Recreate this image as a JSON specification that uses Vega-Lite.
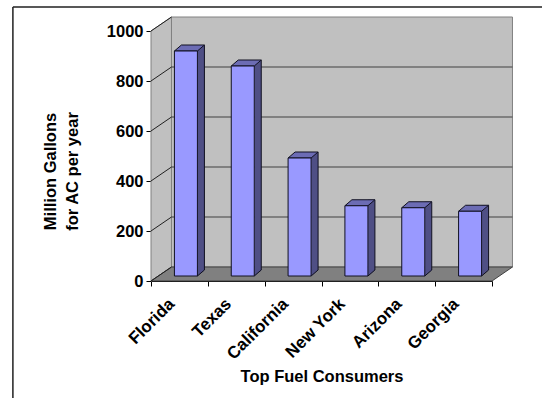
{
  "$schema": "https://vega.github.io/schema/vega-lite/v6.json",
  "width": 341,
  "height": 250,
  "autosize": {"type": "none"},
  "padding": {"left": 151, "top": 31, "right": 50, "bottom": 117},
  "background": "white",
  "config": {"view": {"stroke": null}, "font": "Liberation Sans"},
  "datasets": {
    "consumers": [
      {"state": "Florida", "gallons": 900},
      {"state": "Texas", "gallons": 840},
      {"state": "California", "gallons": 472},
      {"state": "New York", "gallons": 281},
      {"state": "Arizona", "gallons": 273},
      {"state": "Georgia", "gallons": 259}
    ],
    "levels": [
      {"level": 0}, {"level": 200}, {"level": 400}, {"level": 600}, {"level": 800}, {"level": 1000}
    ]
  },
  "resolve": {"scale": {"x": "independent"}, "axis": {"x": "independent"}},
  "layer": [
    {
      "layer": [
        {
          "data": {"values": [{"x0": 0.36, "x1": 6.36, "low": 56, "high": 1056}]},
          "mark": {"type": "rect", "fill": "#c0c0c0", "stroke": "#808080", "strokeWidth": 1},
          "encoding": {
            "x": {"field": "x0", "type": "quantitative", "scale": {"domain": [0, 6], "nice": false, "zero": false}, "axis": null},
            "x2": {"field": "x1"},
            "y": {"field": "low", "type": "quantitative", "scale": {"domain": [0, 1000], "nice": false},
              "axis": {
                "orient": "left",
                "values": [0, 200, 400, 600, 800, 1000],
                "format": "d",
                "grid": false,
                "title": ["Million Gallons", "for AC per year"],
                "titleFont": "Liberation Sans",
                "titleFontSize": 16.5,
                "titleFontWeight": "bold",
                "titleColor": "black",
                "titleLineHeight": 22,
                "titlePadding": 26,
                "titleY": 140,
                "labelFont": "Liberation Sans",
                "labelFontSize": 16.5,
                "labelFontWeight": "bold",
                "labelColor": "black",
                "labelPadding": 3,
                "tickSize": 5,
                "tickColor": "black",
                "domainColor": "#808080"
              }},
            "y2": {"field": "high"}
          }
        },
        {
          "data": {"values": [{"x": 0, "low": 0, "high": 1000}, {"x": 0.36, "low": 56, "high": 1056}]},
          "mark": {"type": "area", "fill": "#c0c0c0", "stroke": "#808080", "strokeWidth": 1},
          "encoding": {
            "x": {"field": "x", "type": "quantitative", "axis": null},
            "y": {"field": "low", "type": "quantitative"},
            "y2": {"field": "high"}
          }
        },
        {
          "data": {"values": [
            {"x": 0, "low": 0, "high": 0},
            {"x": 0.36, "low": 0, "high": 56},
            {"x": 6, "low": 0, "high": 56},
            {"x": 6.36, "low": 56, "high": 56}
          ]},
          "mark": {"type": "area", "fill": "#808080", "stroke": "#404040", "strokeWidth": 1},
          "encoding": {
            "x": {"field": "x", "type": "quantitative", "axis": null},
            "y": {"field": "low", "type": "quantitative"},
            "y2": {"field": "high"}
          }
        },
        {
          "data": {"name": "levels"},
          "transform": [{"filter": "datum.level > 0 && datum.level < 1000"}],
          "mark": {"type": "rule", "color": "#404040", "strokeWidth": 1, "yOffset": -14},
          "encoding": {
            "x": {"datum": 0.36, "type": "quantitative", "axis": null},
            "x2": {"datum": 6.36},
            "y": {"field": "level", "type": "quantitative"}
          }
        },
        {
          "data": {"name": "levels"},
          "mark": {"type": "point", "shape": "M0,0L20.5,-14", "size": 4, "filled": false, "stroke": "#202020", "strokeWidth": 1, "opacity": 1},
          "encoding": {
            "x": {"datum": 0, "type": "quantitative", "axis": null},
            "y": {"field": "level", "type": "quantitative"}
          }
        },
        {
          "data": {"values": [{"edge": "left"}]},
          "mark": {"type": "rule", "color": "#202020", "strokeWidth": 1.5},
          "encoding": {
            "x": {"datum": -2.43, "type": "quantitative", "axis": null},
            "y": {"datum": 1096, "type": "quantitative"},
            "y2": {"datum": -468}
          }
        },
        {
          "data": {"values": [{"edge": "top"}]},
          "mark": {"type": "rule", "color": "#202020", "strokeWidth": 1.5},
          "encoding": {
            "x": {"datum": -2.43, "type": "quantitative", "axis": null},
            "x2": {"datum": 6.88},
            "y": {"datum": 1096, "type": "quantitative"}
          }
        }
      ]
    },
    {
      "data": {"name": "consumers"},
      "encoding": {
        "x": {
          "field": "state",
          "type": "nominal",
          "sort": null,
          "scale": {"domain": ["Florida", "Texas", "California", "New York", "Arizona", "Georgia"], "paddingInner": 0, "paddingOuter": 0},
          "axis": {
            "orient": "bottom",
            "title": "Top Fuel Consumers",
            "titleFont": "Liberation Sans",
            "titleFontSize": 16.5,
            "titleFontWeight": "bold",
            "titleColor": "black",
            "titlePadding": 6,
            "labelFont": "Liberation Sans",
            "labelFontSize": 17,
            "labelFontWeight": "bold",
            "labelColor": "black",
            "labelAngle": -45,
            "labelAlign": "right",
            "labelBaseline": "middle",
            "labelPadding": 15,
            "labelOffset": -8,
            "tickBand": "extent",
            "tickSize": 5,
            "tickColor": "black",
            "domainColor": "black"
          }
        }
      },
      "layer": [
        {
          "mark": {"type": "bar", "width": 7, "fill": "#4f4f85", "xOffset": 21.5, "yOffset": -11, "y2Offset": -11},
          "encoding": {
            "y": {"field": "gallons", "type": "quantitative"},
            "y2": {"datum": 0}
          }
        },
        {
          "mark": {"type": "point", "shape": "M18,0L25,-6L18,-6Z", "size": 4, "filled": true, "fill": "#4f4f85", "stroke": "#4f4f85", "strokeWidth": 0.5, "opacity": 1, "yOffset": -5},
          "encoding": {"y": {"datum": 0, "type": "quantitative"}}
        },
        {
          "mark": {"type": "rule", "color": "#101020", "strokeWidth": 1, "xOffset": 25, "yOffset": -11, "y2Offset": -11},
          "encoding": {
            "y": {"field": "gallons", "type": "quantitative"},
            "y2": {"datum": 0}
          }
        },
        {
          "mark": {"type": "point", "shape": "M18,0L25,-6", "size": 4, "filled": false, "stroke": "#101020", "strokeWidth": 1, "opacity": 1, "yOffset": -5},
          "encoding": {"y": {"datum": 0, "type": "quantitative"}}
        },
        {
          "mark": {"type": "point", "shape": "M-5,0L18,0L25,-6L2,-6Z", "size": 4, "filled": true, "fill": "#6c6cb4", "stroke": "#101020", "strokeWidth": 1, "opacity": 1, "yOffset": -5},
          "encoding": {"y": {"field": "gallons", "type": "quantitative"}}
        },
        {
          "mark": {"type": "bar", "width": 23, "fill": "#9999ff", "stroke": "#101020", "strokeWidth": 1, "xOffset": 6.5, "yOffset": -5, "y2Offset": -5},
          "encoding": {
            "y": {"field": "gallons", "type": "quantitative"},
            "y2": {"datum": 0}
          }
        }
      ]
    }
  ]
}
